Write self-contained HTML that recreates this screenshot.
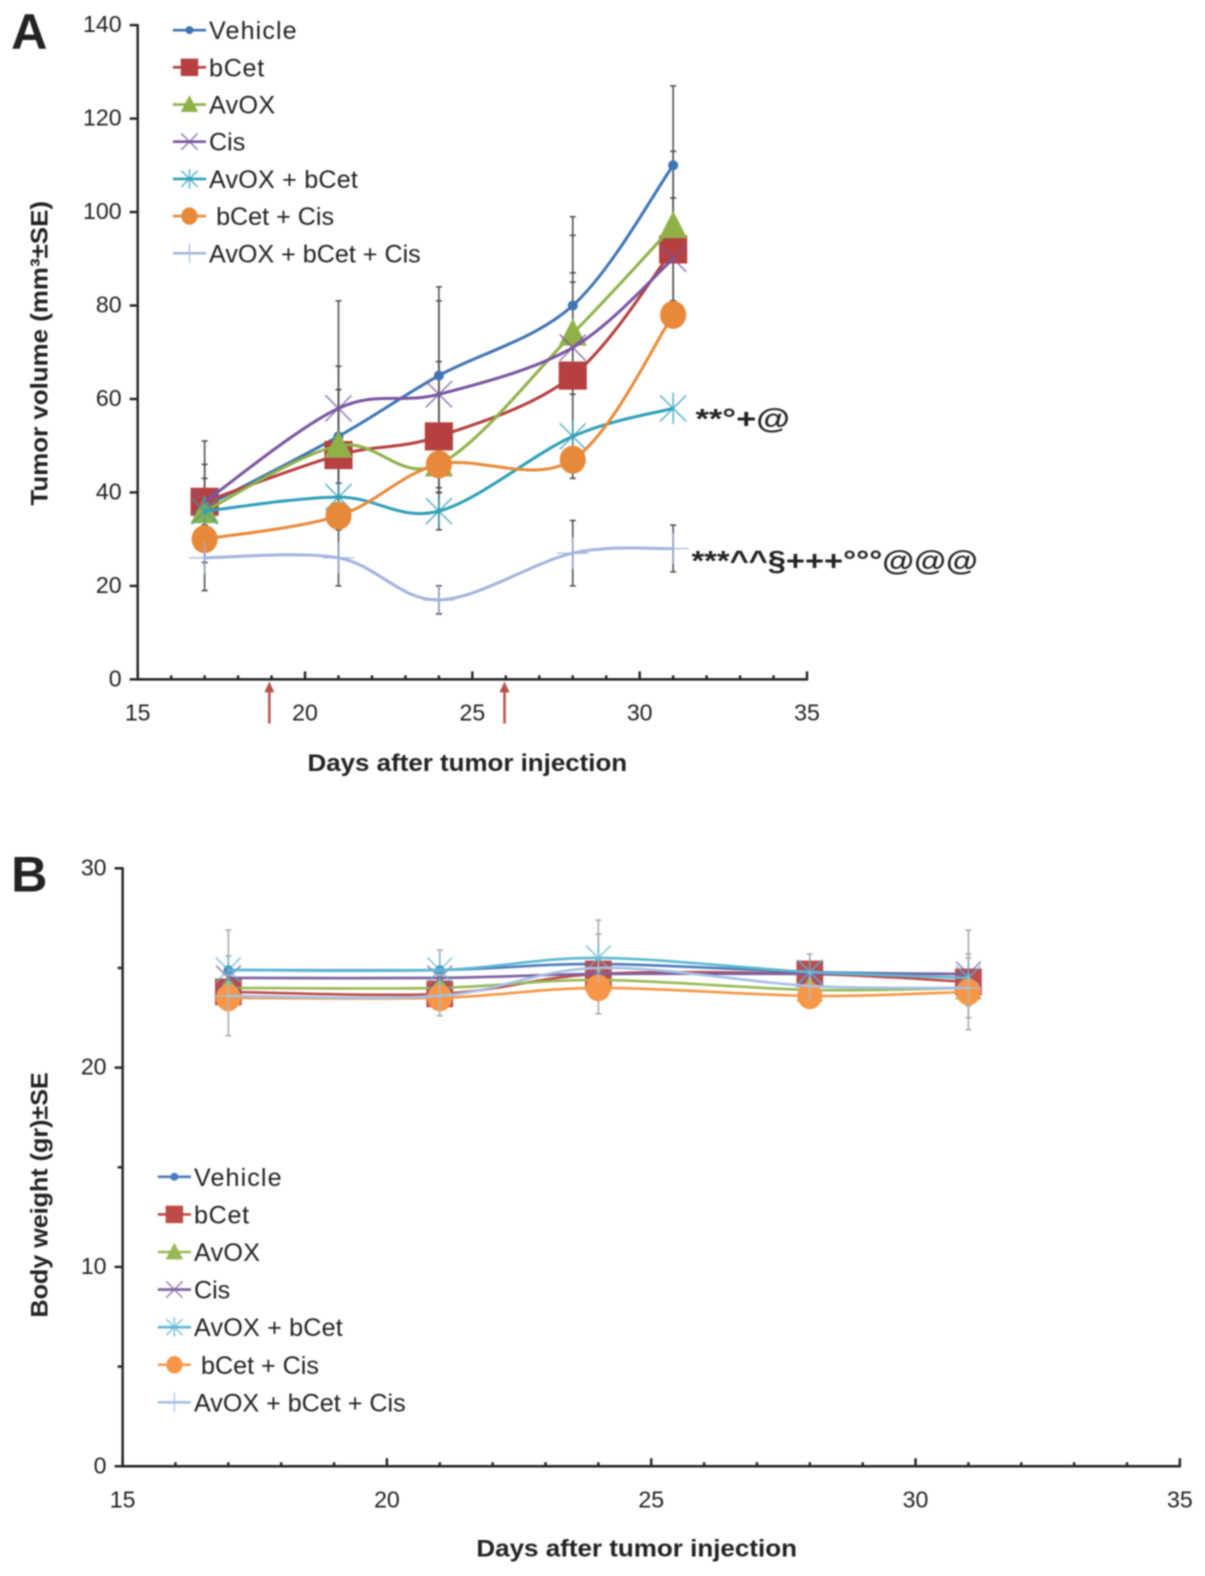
<!DOCTYPE html>
<html lang="en">
<head>
<meta charset="utf-8">
<title>Tumor volume and body weight</title>
<style>
html,body{margin:0;padding:0;background:#fff;width:1205px;height:1576px;overflow:hidden}
svg{display:block;filter:blur(.7px)}
text{font-family:"Liberation Sans",sans-serif;fill:#222}
.b{font-weight:bold}
</style>
</head>
<body>
<svg id="figure" xmlns="http://www.w3.org/2000/svg" width="1205" height="1576" viewBox="0 0 1199 1568.2">
  <rect width="1205" height="1576" fill="#fff"/>
  <text class="b" x="11" y="49" font-size="50">A</text>
  <text class="b" x="11" y="887" font-size="50">B</text>
  <text class="b" x="306" y="767" font-size="24" textLength="318" lengthAdjust="spacingAndGlyphs">Days after tumor injection</text>
  <text class="b" x="474" y="1549" font-size="24" textLength="319" lengthAdjust="spacingAndGlyphs">Days after tumor injection</text>
  <text class="b" transform="translate(47,503) rotate(-90)" font-size="24" textLength="303" lengthAdjust="spacingAndGlyphs">Tumor volume (mm³±SE)</text>
  <text class="b" transform="translate(47,1311) rotate(-90)" font-size="24" textLength="244" lengthAdjust="spacingAndGlyphs">Body weight (gr)±SE</text>
  <text class="b" x="692" y="426" font-size="28" textLength="94" lengthAdjust="spacingAndGlyphs">**°+@</text>
  <text class="b" x="688" y="567" font-size="28" textLength="285" lengthAdjust="spacingAndGlyphs">***^^§+++°°°@@@</text>
  <g stroke="#b5534f" fill="#b5534f">
    <line x1="268" y1="686" x2="268" y2="720" stroke-width="2.5"/>
    <path d="M263 689 L268 678 L273 689 Z" stroke="none"/>
  </g>
  <g stroke="#b5534f" fill="#b5534f">
    <line x1="502" y1="686" x2="502" y2="720" stroke-width="2.5"/>
    <path d="M497 689 L502 678 L507 689 Z" stroke="none"/>
  </g>
</svg>
<script>
var days = [17, 21, 24, 28, 31];
var seriesNames = ["Vehicle", "bCet", "AvOX", "Cis", "AvOX + bCet", "bCet + Cis", "AvOX + bCet + Cis"];
var markerKinds = ["dot", "square", "triangle", "x", "star", "circle", "plus"];
var seriesColorsA = ["#3f74b5", "#b5403f", "#8fb148", "#7a55a0", "#2f9fb8", "#e8893a", "#a3b4de"];
var seriesColorsB = ["#4a7ebb", "#be4b48", "#98b954", "#7d5fa0", "#5cb8d2", "#f79646", "#a5c0e4"];
var legendSpacing = [1.1, 0.7, 0.3, 0, 0.2, 0, 0];

var volumeVehicle = [37, 52, 65, 80, 110];
var volumeBCet = [38, 48, 52, 65, 92];
var volumeAvOX = [36, 50, 46, 74, 97];
var volumeCis = [38, 58, 61, 71, 90];
var volumeAvOXBCet = [36, 39, 36, 52, 58];
var volumeBCetCis = [30, 35, 46, 47, 78];
var volumeTriple = [26, 26, 17, 27, 28];

var volumeErrVehicle = [9, 10, 19, 15, 17];
var volumeErrBCet = [13, 0, 16, 20, 11];
var volumeErrAvOX = [0, 17, 6, 13, 16];
var volumeErrCis = [5, 23, 20, 28, 0];
var volumeErrAvOXBCet = [0, 0, 4, 0, 0];
var volumeErrBCetCis = [0, 0, 0, 2, 0];
var volumeErrTriple = [7, 6, 3, 7, 5];

var weightVehicle = [24.9, 24.9, 25.2, 24.8, 24.7];
var weightBCet = [23.8, 23.7, 24.7, 24.7, 24.3];
var weightAvOX = [24, 24, 24.4, 23.9, 24];
var weightCis = [24.5, 24.5, 24.7, 24.7, 24.7];
var weightAvOXBCet = [24.9, 24.9, 25.5, 24.8, 24.5];
var weightBCetCis = [23.5, 23.5, 24, 23.6, 23.8];
var weightTriple = [23.6, 23.6, 25, 24.1, 24];

var weightErrVehicle = [0, 0, 1.5, 0, 2.2];
var weightErrBCet = [0, 0, 0, 0, 1.2];
var weightErrAvOX = [0, 0, 0, 0, 0];
var weightErrCis = [0, 0, 0, 0, 0];
var weightErrAvOXBCet = [2, 1, 1.9, 0.9, 0];
var weightErrBCetCis = [0, 0.9, 1.3, 0, 1.9];
var weightErrTriple = [2, 0, 0, 0, 0];

var volumeTicks = [0, 20, 40, 60, 80, 100, 120, 140];
var weightTicks = [0, 10, 20, 30];
var weightMinorTicks = [5, 15, 25];
var dayTicks = [15, 20, 25, 30, 35];
var dayMinorTicks = [16, 17, 18, 19, 21, 22, 23, 24, 26, 27, 28, 29, 31, 32, 33, 34];

var volumeSeries = [volumeVehicle, volumeBCet, volumeAvOX, volumeCis, volumeAvOXBCet, volumeBCetCis, volumeTriple];
var volumeErrors = [volumeErrVehicle, volumeErrBCet, volumeErrAvOX, volumeErrCis, volumeErrAvOXBCet, volumeErrBCetCis, volumeErrTriple];
var weightSeries = [weightVehicle, weightBCet, weightAvOX, weightCis, weightAvOXBCet, weightBCetCis, weightTriple];
var weightErrors = [weightErrVehicle, weightErrBCet, weightErrAvOX, weightErrCis, weightErrAvOXBCet, weightErrBCetCis, weightErrTriple];

var NS = "http://www.w3.org/2000/svg";
var root = document.getElementById("figure");

function add(tag, parent) {
  var el = document.createElementNS(NS, tag);
  parent.appendChild(el);
  return el;
}

function scaleLinear(d0, d1, r0, r1) {
  return function (v) { return r0 + (v - d0) * (r1 - r0) / (d1 - d0); };
}

function smoothPath(pts) {
  var d = "M" + pts[0][0] + " " + pts[0][1];
  for (var i = 0; i < pts.length - 1; i++) {
    var p0 = pts[Math.max(0, i - 1)], p1 = pts[i], p2 = pts[i + 1], p3 = pts[Math.min(pts.length - 1, i + 2)];
    d += " C" + (p1[0] + (p2[0] - p0[0]) / 6) + " " + (p1[1] + (p2[1] - p0[1]) / 6) +
         " " + (p2[0] - (p3[0] - p1[0]) / 6) + " " + (p2[1] - (p3[1] - p1[1]) / 6) +
         " " + p2[0] + " " + p2[1];
  }
  return d;
}

function drawMarker(parent, kind, cx, cy, color, k) {
  var el;
  if (kind === "dot") {
    el = add("circle", parent);
    el.setAttribute("cx", cx);
    el.setAttribute("cy", cy);
    el.setAttribute("r", 5 * k);
    el.setAttribute("fill", color);
  } else if (kind === "square") {
    el = add("rect", parent);
    el.setAttribute("x", cx - 14 * k);
    el.setAttribute("y", cy - 14 * k);
    el.setAttribute("width", 28 * k);
    el.setAttribute("height", 28 * k);
    el.setAttribute("fill", color);
  } else if (kind === "triangle") {
    el = add("path", parent);
    el.setAttribute("d", "M" + cx + " " + (cy - 15 * k) + " L" + (cx + 14 * k) + " " + (cy + 12 * k) + " L" + (cx - 14 * k) + " " + (cy + 12 * k) + " Z");
    el.setAttribute("fill", color);
  } else if (kind === "circle") {
    el = add("ellipse", parent);
    el.setAttribute("cx", cx);
    el.setAttribute("cy", cy);
    el.setAttribute("rx", 13 * k);
    el.setAttribute("ry", 14 * k);
    el.setAttribute("fill", color);
  } else {
    var r = 13 * k, d = "";
    if (kind === "x" || kind === "star") {
      d += "M" + (cx - r) + " " + (cy - r) + " L" + (cx + r) + " " + (cy + r) + " M" + (cx - r) + " " + (cy + r) + " L" + (cx + r) + " " + (cy - r);
    }
    if (kind === "star") {
      d += " M" + cx + " " + (cy - r * 1.2) + " L" + cx + " " + (cy + r * 1.2);
    }
    if (kind === "plus") {
      d += "M" + (cx - r * 1.2) + " " + cy + " L" + (cx + r * 1.2) + " " + cy + " M" + cx + " " + (cy - r * 1.2) + " L" + cx + " " + (cy + r * 1.2);
    }
    el = add("path", parent);
    el.setAttribute("d", d);
    el.setAttribute("fill", "none");
    el.setAttribute("stroke", color);
    el.setAttribute("stroke-width", 1.6);
    el.setAttribute("opacity", 0.75);
  }
  return el;
}

function drawPanel(cfg) {
  var panel = add("g", root);
  
  
  var x = scaleLinear(15, 35, cfg.x0, cfg.x1);
  var y = scaleLinear(0, cfg.yMax, cfg.y0, cfg.y1);

  var axes = add("g", panel);
  
  
  axes.setAttribute("stroke", "#222");
  axes.setAttribute("stroke-width", 2.4);

  var xAxis = add("line", axes);
  
  
  xAxis.setAttribute("x1", cfg.x0 - 1);
  xAxis.setAttribute("x2", cfg.x1 + 1);
  xAxis.setAttribute("y1", cfg.y0);
  xAxis.setAttribute("y2", cfg.y0);

  var yAxis = add("line", axes);
  
  
  yAxis.setAttribute("x1", cfg.x0);
  yAxis.setAttribute("x2", cfg.x0);
  yAxis.setAttribute("y1", cfg.y0 + 1);
  yAxis.setAttribute("y2", cfg.y1 - 1);

  dayTicks.forEach(function (t) {
    var tk = add("line", axes);
    
    
    tk.setAttribute("x1", x(t));
    tk.setAttribute("x2", x(t));
    tk.setAttribute("y1", cfg.y0);
    tk.setAttribute("y2", cfg.y0 - 8);
    var lb = add("text", panel);
    
    
    lb.setAttribute("x", x(t));
    lb.setAttribute("y", cfg.y0 + 41);
    lb.setAttribute("text-anchor", "middle");
    lb.setAttribute("font-size", 23);
    lb.textContent = t;
  });
  dayMinorTicks.forEach(function (t) {
    var tk = add("line", axes);
    
    
    tk.setAttribute("x1", x(t));
    tk.setAttribute("x2", x(t));
    tk.setAttribute("y1", cfg.y0);
    tk.setAttribute("y2", cfg.y0 - 4);
  });
  cfg.yTicks.forEach(function (t) {
    var tk = add("line", axes);
    
    
    tk.setAttribute("x1", cfg.x0 - 8);
    tk.setAttribute("x2", cfg.x0);
    tk.setAttribute("y1", y(t));
    tk.setAttribute("y2", y(t));
    var lb = add("text", panel);
    
    
    lb.setAttribute("x", cfg.x0 - 16);
    lb.setAttribute("y", y(t) + 7);
    lb.setAttribute("text-anchor", "end");
    lb.setAttribute("font-size", 23);
    lb.textContent = t;
  });
  cfg.yMinor.forEach(function (t) {
    var tk = add("line", axes);
    
    
    tk.setAttribute("x1", cfg.x0 - 5);
    tk.setAttribute("x2", cfg.x0);
    tk.setAttribute("y1", y(t));
    tk.setAttribute("y2", y(t));
  });

  var bars = add("g", panel);
  
  
  bars.setAttribute("stroke", cfg.errColor);
  bars.setAttribute("stroke-width", 1.5);
  cfg.series.forEach(function (vals, s) {
    vals.forEach(function (v, i) {
      var e = cfg.errors[s][i];
      if (!e) { return; }
      var px = x(days[i]);
      var bar = add("path", bars);
      
      
      bar.setAttribute("fill", "none");
      bar.setAttribute("d", "M" + px + " " + y(v + e) + " L" + px + " " + y(v - e) +
        " M" + (px - 3) + " " + y(v + e) + " L" + (px + 3) + " " + y(v + e) +
        " M" + (px - 3) + " " + y(v - e) + " L" + (px + 3) + " " + y(v - e));
    });
  });

  cfg.series.forEach(function (vals, s) {
    var grp = add("g", panel);
    
    
    var pts = vals.map(function (v, i) { return [x(days[i]), y(v)]; });
    var line = add("path", grp);
    
    
    line.setAttribute("d", smoothPath(pts));
    line.setAttribute("fill", "none");
    line.setAttribute("stroke", cfg.colors[s]);
    line.setAttribute("stroke-width", cfg.lineWidth);
    pts.forEach(function (p) {
      var m = drawMarker(grp, markerKinds[s], p[0], p[1], cfg.colors[s], cfg.markerScale);
      
      
    });
  });

  var legend = add("g", panel);
  
  
  seriesNames.forEach(function (nm, s) {
    var row = add("g", legend);
    
    
    var cy = cfg.legendY0 + s * cfg.legendStep;
    var h = add("line", row);
    
    
    h.setAttribute("x1", cfg.legendX);
    h.setAttribute("x2", cfg.legendX + 33);
    h.setAttribute("y1", cy);
    h.setAttribute("y2", cy);
    h.setAttribute("stroke", cfg.colors[s]);
    h.setAttribute("stroke-width", 2.6);
    var m = drawMarker(row, markerKinds[s], cfg.legendX + 16.5, cy, cfg.colors[s], markerKinds[s] === "dot" ? 0.8 : 0.62);
    
    
    var t = add("text", row);
    
    
    t.setAttribute("x", cfg.legendX + 36 + (s === 5 ? 7 : 0));
    t.setAttribute("y", cy + 9);
    t.setAttribute("font-size", 25);
    t.setAttribute("letter-spacing", legendSpacing[s]);
    t.textContent = nm;
  });
}

drawPanel({
  name: "panel-a",
  x0: 137, x1: 803, y0: 676, y1: 25, yMax: 140,
  yTicks: volumeTicks, yMinor: [],
  series: volumeSeries, errors: volumeErrors,
  colors: seriesColorsA, errColor: "#4a4a4a", markerScale: 1, lineWidth: 3,
  legendX: 172, legendY0: 30, legendStep: 37
});

drawPanel({
  name: "panel-b",
  x0: 122, x1: 1174, y0: 1459, y1: 864, yMax: 30,
  yTicks: weightTicks, yMinor: weightMinorTicks,
  series: weightSeries, errors: weightErrors,
  colors: seriesColorsB, errColor: "#a8a8a8", markerScale: 0.95, lineWidth: 2.6,
  legendX: 157, legendY0: 1171, legendStep: 37.4
});
</script>
</body>
</html>
